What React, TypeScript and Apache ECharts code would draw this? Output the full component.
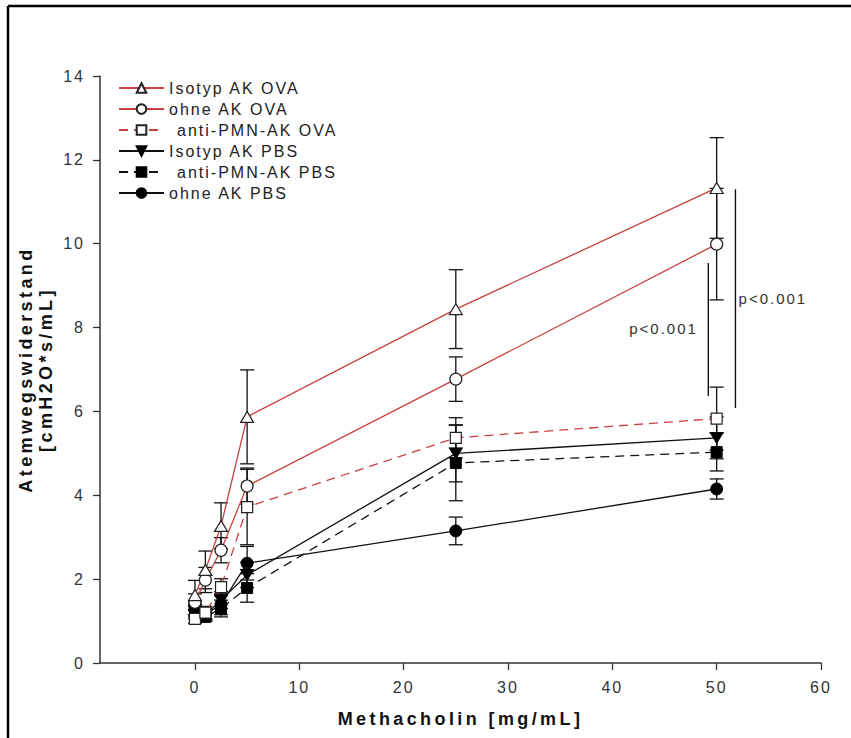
import React, { useEffect, useRef } from "react";
import * as echarts from "echarts";

// ---- data ----
const doses = [0, 1, 2.5, 5, 25, 50];
const xTickValues = [0, 10, 20, 30, 40, 50, 60];

const isotypOVA = [1.62, 2.22, 3.27, 5.87, 8.44, 11.33];
const isotypOVAErr = [0.35, 0.45, 0.55, 1.12, 0.94, 1.2];
const ohneOVA = [1.45, 1.98, 2.69, 4.22, 6.77, 9.99];
const ohneOVAErr = [0.2, 0.3, 0.3, 0.43, 0.53, 1.33];
const antiOVA = [1.05, 1.2, 1.81, 3.72, 5.37, 5.83];
const antiOVAErr = [0.1, 0.15, 0.2, 0.9, 0.48, 0.75];
const isotypPBS = [1.25, 1.15, 1.5, 2.1, 5.0, 5.37];
const isotypPBSErr = [0.15, 0.15, 0.2, 0.3, 0.68, 0.5];
const antiPBS = [1.2, 1.1, 1.3, 1.79, 4.77, 5.03];
const antiPBSErr = [0.15, 0.1, 0.2, 0.34, 0.9, 0.45];
const ohnePBS = [1.3, 1.15, 1.4, 2.38, 3.15, 4.15];
const ohnePBSErr = [0.15, 0.1, 0.25, 0.4, 0.33, 0.24];

const seriesNames = [
  "Isotyp AK OVA",
  "ohne AK OVA",
  "anti-PMN-AK OVA",
  "Isotyp AK PBS",
  "anti-PMN-AK PBS",
  "ohne AK PBS",
];

// significance brackets: [x, yTop, yBottom]
const pLines = [
  [51.8, 11.3, 6.08],
  [49.2, 9.54, 6.37],
];
// significance labels: [x, y, alignRight(1)/left(0)]
const pLabels = [
  [52.1, 8.7, 0],
  [48.2, 7.97, 1],
];
const pText = "p<0.001";

const RED = "#c8403f";
const FONT = "'Liberation Sans', Arial, Helvetica, sans-serif";

const pts = (ys: number[]) => doses.map((d, i) => [d, ys[i]]);
const errs = (ys: number[], es: number[]) => doses.map((d, i) => [d, ys[i], es[i]]);

function errorSeries(ys: number[], es: number[]) {
  return {
    type: "custom",
    z: 1,
    silent: true,
    encode: { x: 0, y: 1 },
    data: errs(ys, es),
    renderItem: (params: any, api: any) => {
      const x = api.value(0);
      const y = api.value(1);
      const e = api.value(2);
      const top = api.coord([x, y + e]);
      const bot = api.coord([x, y - e]);
      const hw = 7;
      const st = { stroke: "#111", lineWidth: 1.3 };
      return {
        type: "group",
        children: [
          { type: "line", shape: { x1: top[0], y1: top[1], x2: bot[0], y2: bot[1] }, style: st },
          { type: "line", shape: { x1: top[0] - hw, y1: top[1], x2: top[0] + hw, y2: top[1] }, style: st },
          { type: "line", shape: { x1: bot[0] - hw, y1: bot[1], x2: bot[0] + hw, y2: bot[1] }, style: st },
        ],
      };
    },
  };
}

function lineSeries(
  name: string,
  ys: number[],
  lineColor: string,
  dashed: boolean,
  symbol: string,
  size: any,
  filled: boolean,
  rotate = 0
) {
  return {
    type: "line",
    name,
    z: 3,
    data: pts(ys),
    symbol,
    symbolSize: size,
    symbolRotate: rotate,
    showAllSymbol: true,
    lineStyle: { color: lineColor, width: 1.3, type: dashed ? [9, 6] : "solid" },
    itemStyle: filled
      ? { color: "#000", borderColor: "#000", borderWidth: 1 }
      : { color: "#fff", borderColor: "#222", borderWidth: 1.2 },
  };
}

export default function App() {
  const ref = useRef<HTMLDivElement>(null);

  useEffect(() => {
    if (!ref.current) return;
    const chart = echarts.init(ref.current, undefined, { renderer: "svg" });

    const option: any = {
      animation: false,
      backgroundColor: "#fff",
      textStyle: { fontFamily: FONT },
      grid: { left: 100, right: 30, top: 76, bottom: 75, containLabel: false },
      xAxis: {
        type: "value",
        min: -9.1,
        max: 60,
        name: "Methacholin [mg/mL]",
        nameLocation: "middle",
        nameGap: 47,
        nameTextStyle: { fontFamily: FONT, fontWeight: "bold", fontSize: 18, color: "#111" },
        axisLine: { show: true, onZero: false, lineStyle: { color: "#333", width: 1.5 } },
        axisTick: { show: true, inside: false, length: 7, customValues: xTickValues, lineStyle: { color: "#333", width: 1.3 } },
        axisLabel: { fontFamily: FONT, fontSize: 16, color: "#333", margin: 16, customValues: xTickValues },
        splitLine: { show: false },
      },
      yAxis: {
        type: "value",
        min: 0,
        max: 14,
        interval: 2,
        name: "Atemwegswiderstand\n[cmH2O*s/mL]",
        nameLocation: "middle",
        nameGap: 44,
        nameTextStyle: { fontFamily: FONT, fontWeight: "bold", fontSize: 18, lineHeight: 20, color: "#111" },
        axisLine: { show: true, onZero: false, lineStyle: { color: "#333", width: 1.5 } },
        axisTick: { show: true, inside: false, length: 7, lineStyle: { color: "#333", width: 1.3 } },
        axisLabel: { fontFamily: FONT, fontSize: 16, color: "#333", margin: 15 },
        splitLine: { show: false },
      },
      legend: {
        orient: "vertical",
        left: 113,
        top: 75,
        itemWidth: 45,
        itemHeight: 12,
        itemGap: 5,
        selectedMode: false,
        data: seriesNames,
        formatter: (n: string) => (n.startsWith("anti") ? "{a|" + n + "}" : n),
        textStyle: {
          fontFamily: FONT,
          fontSize: 16,
          color: "#222",
          rich: { a: { fontFamily: FONT, fontSize: 16, color: "#222", padding: [0, 0, 0, 8] } },
        },
      },
      graphic: [
        { type: "line", silent: true, shape: { x1: 8, y1: 6, x2: 8, y2: 738 }, style: { stroke: "#000", lineWidth: 2.5 } },
        { type: "line", silent: true, shape: { x1: 8, y1: 6, x2: 851, y2: 6 }, style: { stroke: "#000", lineWidth: 2.5 } },
      ],
      series: [
        errorSeries(ohnePBS, ohnePBSErr),
        errorSeries(antiPBS, antiPBSErr),
        errorSeries(isotypPBS, isotypPBSErr),
        errorSeries(antiOVA, antiOVAErr),
        errorSeries(ohneOVA, ohneOVAErr),
        errorSeries(isotypOVA, isotypOVAErr),
        lineSeries(seriesNames[5], ohnePBS, "#111", false, "circle", 12, true),
        lineSeries(seriesNames[4], antiPBS, "#111", true, "rect", 11, true),
        lineSeries(seriesNames[3], isotypPBS, "#111", false, "triangle", [13, 11], true, 180),
        lineSeries(seriesNames[2], antiOVA, RED, true, "rect", 11, false),
        lineSeries(seriesNames[1], ohneOVA, RED, false, "circle", 12, false),
        lineSeries(seriesNames[0], isotypOVA, RED, false, "triangle", [13, 11], false),
        {
          type: "custom",
          z: 4,
          silent: true,
          encode: { x: 0, y: 1 },
          data: pLines,
          renderItem: (params: any, api: any) => {
            const a = api.coord([api.value(0), api.value(1)]);
            const b = api.coord([api.value(0), api.value(2)]);
            return {
              type: "line",
              shape: { x1: a[0], y1: a[1], x2: b[0], y2: b[1] },
              style: { stroke: "#111", lineWidth: 1.4 },
            };
          },
        },
        {
          type: "custom",
          z: 4,
          silent: true,
          encode: { x: 0, y: 1 },
          data: pLabels,
          renderItem: (params: any, api: any) => {
            const p = api.coord([api.value(0), api.value(1)]);
            return {
              type: "text",
              x: p[0],
              y: p[1],
              style: {
                text: pText,
                fontFamily: FONT,
                fontSize: 15,
                fill: "#333",
                align: api.value(2) === 1 ? "right" : "left",
                verticalAlign: "middle",
              },
            };
          },
        },
      ],
    };

    chart.setOption(option);
    return () => chart.dispose();
  }, []);

  return (
    <>
      <style>{`
        .chartbox text { letter-spacing: 2px; }
        .chartbox text[style*="bold"] { letter-spacing: 3.4px; }
      `}</style>
      <div
        ref={ref}
        className="chartbox"
        style={{ position: "fixed", left: 0, top: 0, width: 851, height: 738, background: "#fff" }}
      />
    </>
  );
}
